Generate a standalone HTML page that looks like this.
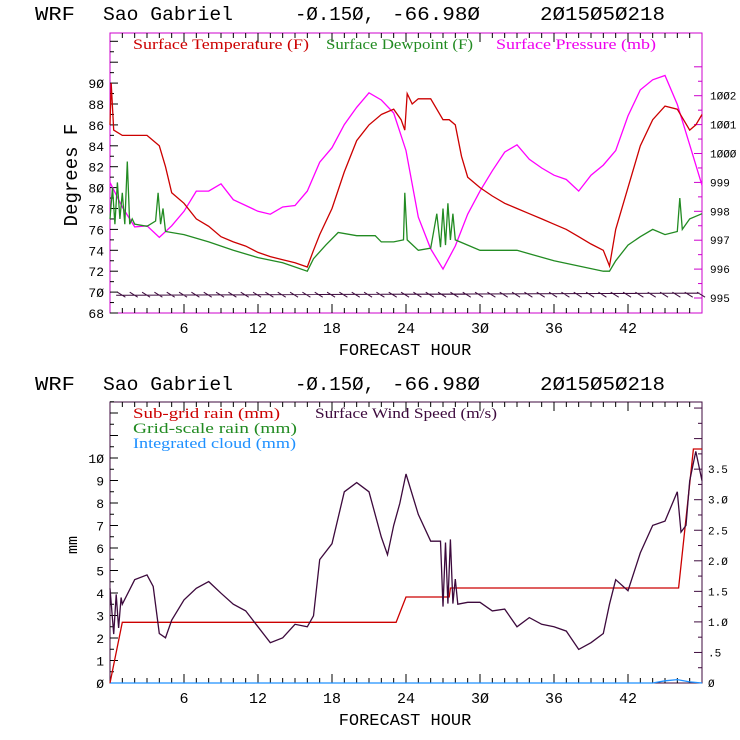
<!DOCTYPE html>
<html><head><meta charset="utf-8"><style>
body{margin:0;background:#fff}
svg{display:block}
text{font-family:"Liberation Mono",monospace}
.lg{font-family:"Liberation Serif",serif;font-size:15px}
</style></head><body>
<svg id="c" width="740" height="740" xmlns="http://www.w3.org/2000/svg"></svg>
<script>
const hoursT=[0,0.1,0.3,1,2,3,4,4.5,5,6,7,8,9,10,11,12,13,14,15,16,16.5,17,18,19,20,21,22,23,23.6,23.9,24.1,24.5,25,26,27,27.5,28,28.5,29,30,31,32,33,34,35,36,37,38,39,40,40.5,41,42,43,44,45,46,47,47.5,48];
const tempF=[86,90,85.5,85,85,85,84,82,79.5,78.5,77,76.3,75.3,74.8,74.4,73.8,73.4,73.1,72.8,72.4,74,75.5,78,81.5,84.5,86,87,87.5,86.5,85.5,89,88,88.5,88.5,86.5,86.5,86,83,81,80,79.2,78.5,78,77.5,77,76.5,76,75.3,74.6,74,72.5,76,80,84,86.5,87.8,87.5,85.5,86,87];
const hoursD=[0,0.2,0.4,0.6,0.8,1,1.2,1.4,1.6,1.8,2,3,3.7,3.9,4.1,4.3,4.5,6,8,10,12,14,16,16.5,17.5,18.5,20,21.5,22,23,23.8,23.9,24.1,25,26,26.5,26.8,27,27.2,27.4,27.6,27.8,28,29,30,33,36,40,40.5,41,42,43,44,45,46,46.2,46.4,47,48];
const dewF=[77,80,76.5,80.5,77,79.5,76.5,82.5,76.5,77,76.5,76.3,76.8,79.5,76.5,78,75.8,75.5,74.8,74,73.3,72.8,72,73.2,74.5,75.7,75.4,75.4,74.8,74.8,75,79.5,75,74,74.2,77.5,74.3,78,74.5,78.5,75,77.5,75,74.5,74,74,73,72,72,73,74.5,75.3,76,75.5,75.8,79,76,77,77.5];
const hoursP=[0,1,2,3,4,5,6,7,8,9,10,11,12,13,14,15,16,17,18,19,20,21,22,23,24,25,26,27,28,29,30,31,32,33,34,35,36,37,38,39,40,41,42,43,44,45,46,47,48];
const presMb=[999.0,998.15,997.46,997.5,997.1,997.5,998.0,998.7,998.7,998.95,998.4,998.2,998.0,997.9,998.15,998.2,998.7,999.7,1000.2,1001.0,1001.6,1002.1,1001.85,1001.4,1000.1,997.8,996.7,996.0,996.8,997.9,998.7,999.4,1000.05,1000.3,999.8,999.5,999.25,999.1,998.7,999.25,999.6,1000.1,1001.3,1002.2,1002.55,1002.7,1001.7,1000.3,998.9];
const hoursW=[0,0.3,0.5,0.7,0.9,1,2,3,3.5,4,4.5,5,6,7,8,9,10,11,12,13,14,15,16,16.5,17,18,19,20,21,22,22.5,23,23.5,24,25,26,26.8,27,27.2,27.4,27.6,27.8,28,28.2,29,30,31,32,33,34,35,36,37,38,39,40,40.5,41,42,43,44,45,46,46.3,46.7,47,47.5,48];
const windMs=[1.55,0.8,1.45,0.9,1.4,1.29,1.69,1.77,1.58,0.81,0.74,1.03,1.36,1.55,1.66,1.47,1.29,1.18,0.92,0.66,0.74,0.96,0.92,1.1,2.02,2.28,3.13,3.28,3.13,2.39,2.1,2.58,2.94,3.42,2.76,2.32,2.32,1.25,2.3,1.3,2.35,1.3,1.7,1.29,1.32,1.32,1.18,1.21,0.92,1.07,0.96,0.92,0.85,0.55,0.66,0.81,1.29,1.69,1.51,2.13,2.58,2.65,3.13,2.47,2.58,3.31,3.79,3.31];
const hoursR=[0,1,23.2,24,27.5,27.6,46.1,47.3,48];
const rainMm=[0,2.7,2.7,3.82,3.82,4.22,4.22,10.4,10.4];
const tempTicks=[68,70,72,74,76,78,80,82,84,86,88,90];
const presTicks=[995,996,997,998,999,1000,1001,1002];
const mmTicks=[0,1,2,3,4,5,6,7,8,9,10];
const msTicks=["0",".5","1.0","1.5","2.0","2.5","3.0","3.5"];
const hourTicks=[6,12,18,24,30,36,42];

const svg=document.getElementById('c');const NS="http://www.w3.org/2000/svg";
function mk(t,a,txt){const e=document.createElementNS(NS,t);for(const k in a)e.setAttribute(k,a[k]);if(txt!==undefined)e.textContent=txt;svg.appendChild(e);return e;}
const X0=110,X1=702;
const xh=h=>X0+(X1-X0)*h/48;
const yT=v=>313-(v-68)*10.45;
const yP=p=>298-(p-995)*28.9;
const yMm=v=>683-v*22.5;
const yMs=v=>683-v*61.1;
function line(hs,vs,fy,col,name){let d='';hs.forEach((h,i)=>{d+=(i?'L':'M')+xh(h).toFixed(1)+','+fy(vs[i]).toFixed(1)});const p=mk('path',{d:d,fill:'none',stroke:col,'stroke-width':1.3});

}
function title(y,n){[['WRF',35,40],['Sao Gabriel',103,130],['-Ø.15Ø,',295,80],['-66.98Ø',392,88],['2Ø15Ø5Ø218',540,125]].forEach(a=>{const t=mk('text',{x:a[1],y:y,'font-size':19,textLength:a[2],lengthAdjust:'spacingAndGlyphs'},a[0]);

});}
function frame(top,bot,col,n){const r=mk('rect',{x:X0,y:top,width:X1-X0,height:bot-top,fill:'none',stroke:col,'stroke-width':1});


for(let h=1;h<48;h++){const L=h%6==0?9:5;mk('line',{x1:xh(h),x2:xh(h),y1:bot,y2:bot-L,stroke:'#000'});mk('line',{x1:xh(h),x2:xh(h),y1:top,y2:top+L,stroke:'#000'});}
hourTicks.forEach(h=>{const t=mk('text',{x:xh(h),y:bot+20,'font-size':15,'text-anchor':'middle'},String(h).replace(/0/g,'Ø'));

});
const xt=mk('text',{x:405,y:bot+42,'font-size':17,'text-anchor':'middle'},'FORECAST HOUR');

}
// top panel
title(20,'top-title');
frame(33,313,'#c0c','top-plot-frame');
for(let v=68;v<=94;v++){mk('line',{x1:X0,x2:X0+(v%2==0?8:4),y1:yT(v),y2:yT(v),stroke:'#000'});}
tempTicks.forEach(v=>{const t=mk('text',{x:104,y:yT(v)+5,'font-size':13,'text-anchor':'end'},String(v).replace(/0/g,'Ø'));

});
for(let p=995;p<=1003;p+=0.5){mk('line',{x1:X1,x2:X1-(p%1==0?8:4),y1:yP(p),y2:yP(p),stroke:'#c0c'});}
presTicks.forEach(p=>{const t=mk('text',{x:710,y:yP(p)+4,'font-size':11},String(p).replace(/0/g,'Ø'));

});
const yl=mk('text',{x:0,y:0,'font-size':19,'text-anchor':'middle',transform:'translate(77,175) rotate(-90)'},'Degrees F');


[['Surface Temperature (F)','#c00',133,176],['Surface Dewpoint (F)','#228b22',326,147],['Surface Pressure (mb)','#e0e',496,160]].forEach(a=>{const t=mk('text',{x:a[2],y:49,fill:a[1],class:'lg',textLength:a[3],lengthAdjust:'spacingAndGlyphs'},a[0]);

});
line(hoursP,presMb,yP,'#f0f','pressure-line');
line(hoursD,dewF,yT,'#228b22','dewpoint-line');
line(hoursT,tempF,yT,'#c00','temperature-line');
// wind barbs
let bd='M'+xh(0.5)+','+yT(69.7)+'L'+xh(47.8)+','+yT(69.9);
for(let h=0.6;h<47.8;h+=1){bd+='M'+xh(h)+','+(yT(69.7)-3)+'l8,5';}
const wb=mk('path',{d:bd,fill:'none',stroke:'#3d0a3d','stroke-width':1});


// bottom panel
title(390,'bottom-title');
frame(402,683,'#3d0a3d','bottom-plot-frame');
for(let v=0;v<=12.5;v+=0.5){mk('line',{x1:X0,x2:X0+(v%1==0?8:4),y1:yMm(v),y2:yMm(v),stroke:'#000'});}
mmTicks.forEach(v=>{const t=mk('text',{x:104,y:yMm(v)+5,'font-size':13,'text-anchor':'end'},String(v).replace(/0/g,'Ø'));

});
for(let v=0;v<=4.5;v+=0.25){mk('line',{x1:X1,x2:X1-(Math.abs(v*2-Math.round(v*2))<0.01?8:4),y1:yMs(v),y2:yMs(v),stroke:'#3d0a3d'});}
msTicks.forEach((s,i)=>{const t=mk('text',{x:708,y:yMs(i*0.5)+4,'font-size':11},s.replace(/0/g,'Ø'));

});
const y2=mk('text',{x:0,y:0,'font-size':15,'text-anchor':'middle',transform:'translate(77,545) rotate(-90)'},'mm');


[['Sub-grid rain (mm)','#c00',133,418,147],['Grid-scale rain (mm)','#228b22',133,433,164],['Integrated cloud (mm)','#1e90ff',133,448,163],['Surface Wind Speed (m/s)','#3d0a3d',315,418,182]].forEach(a=>{const t=mk('text',{x:a[2],y:a[3],fill:a[1],class:'lg',textLength:a[4],lengthAdjust:'spacingAndGlyphs'},a[0]);

});
line([0,44,45,46,47,48],[0,0,0.1,0.15,0.05,0],yMm,'#1e90ff','cloud-line');
line(hoursR,rainMm,yMm,'#c00','subgrid-rain-line');
line(hoursW,windMs,yMs,'#3d0a3d','wind-speed-line');
</script>
</body></html>
